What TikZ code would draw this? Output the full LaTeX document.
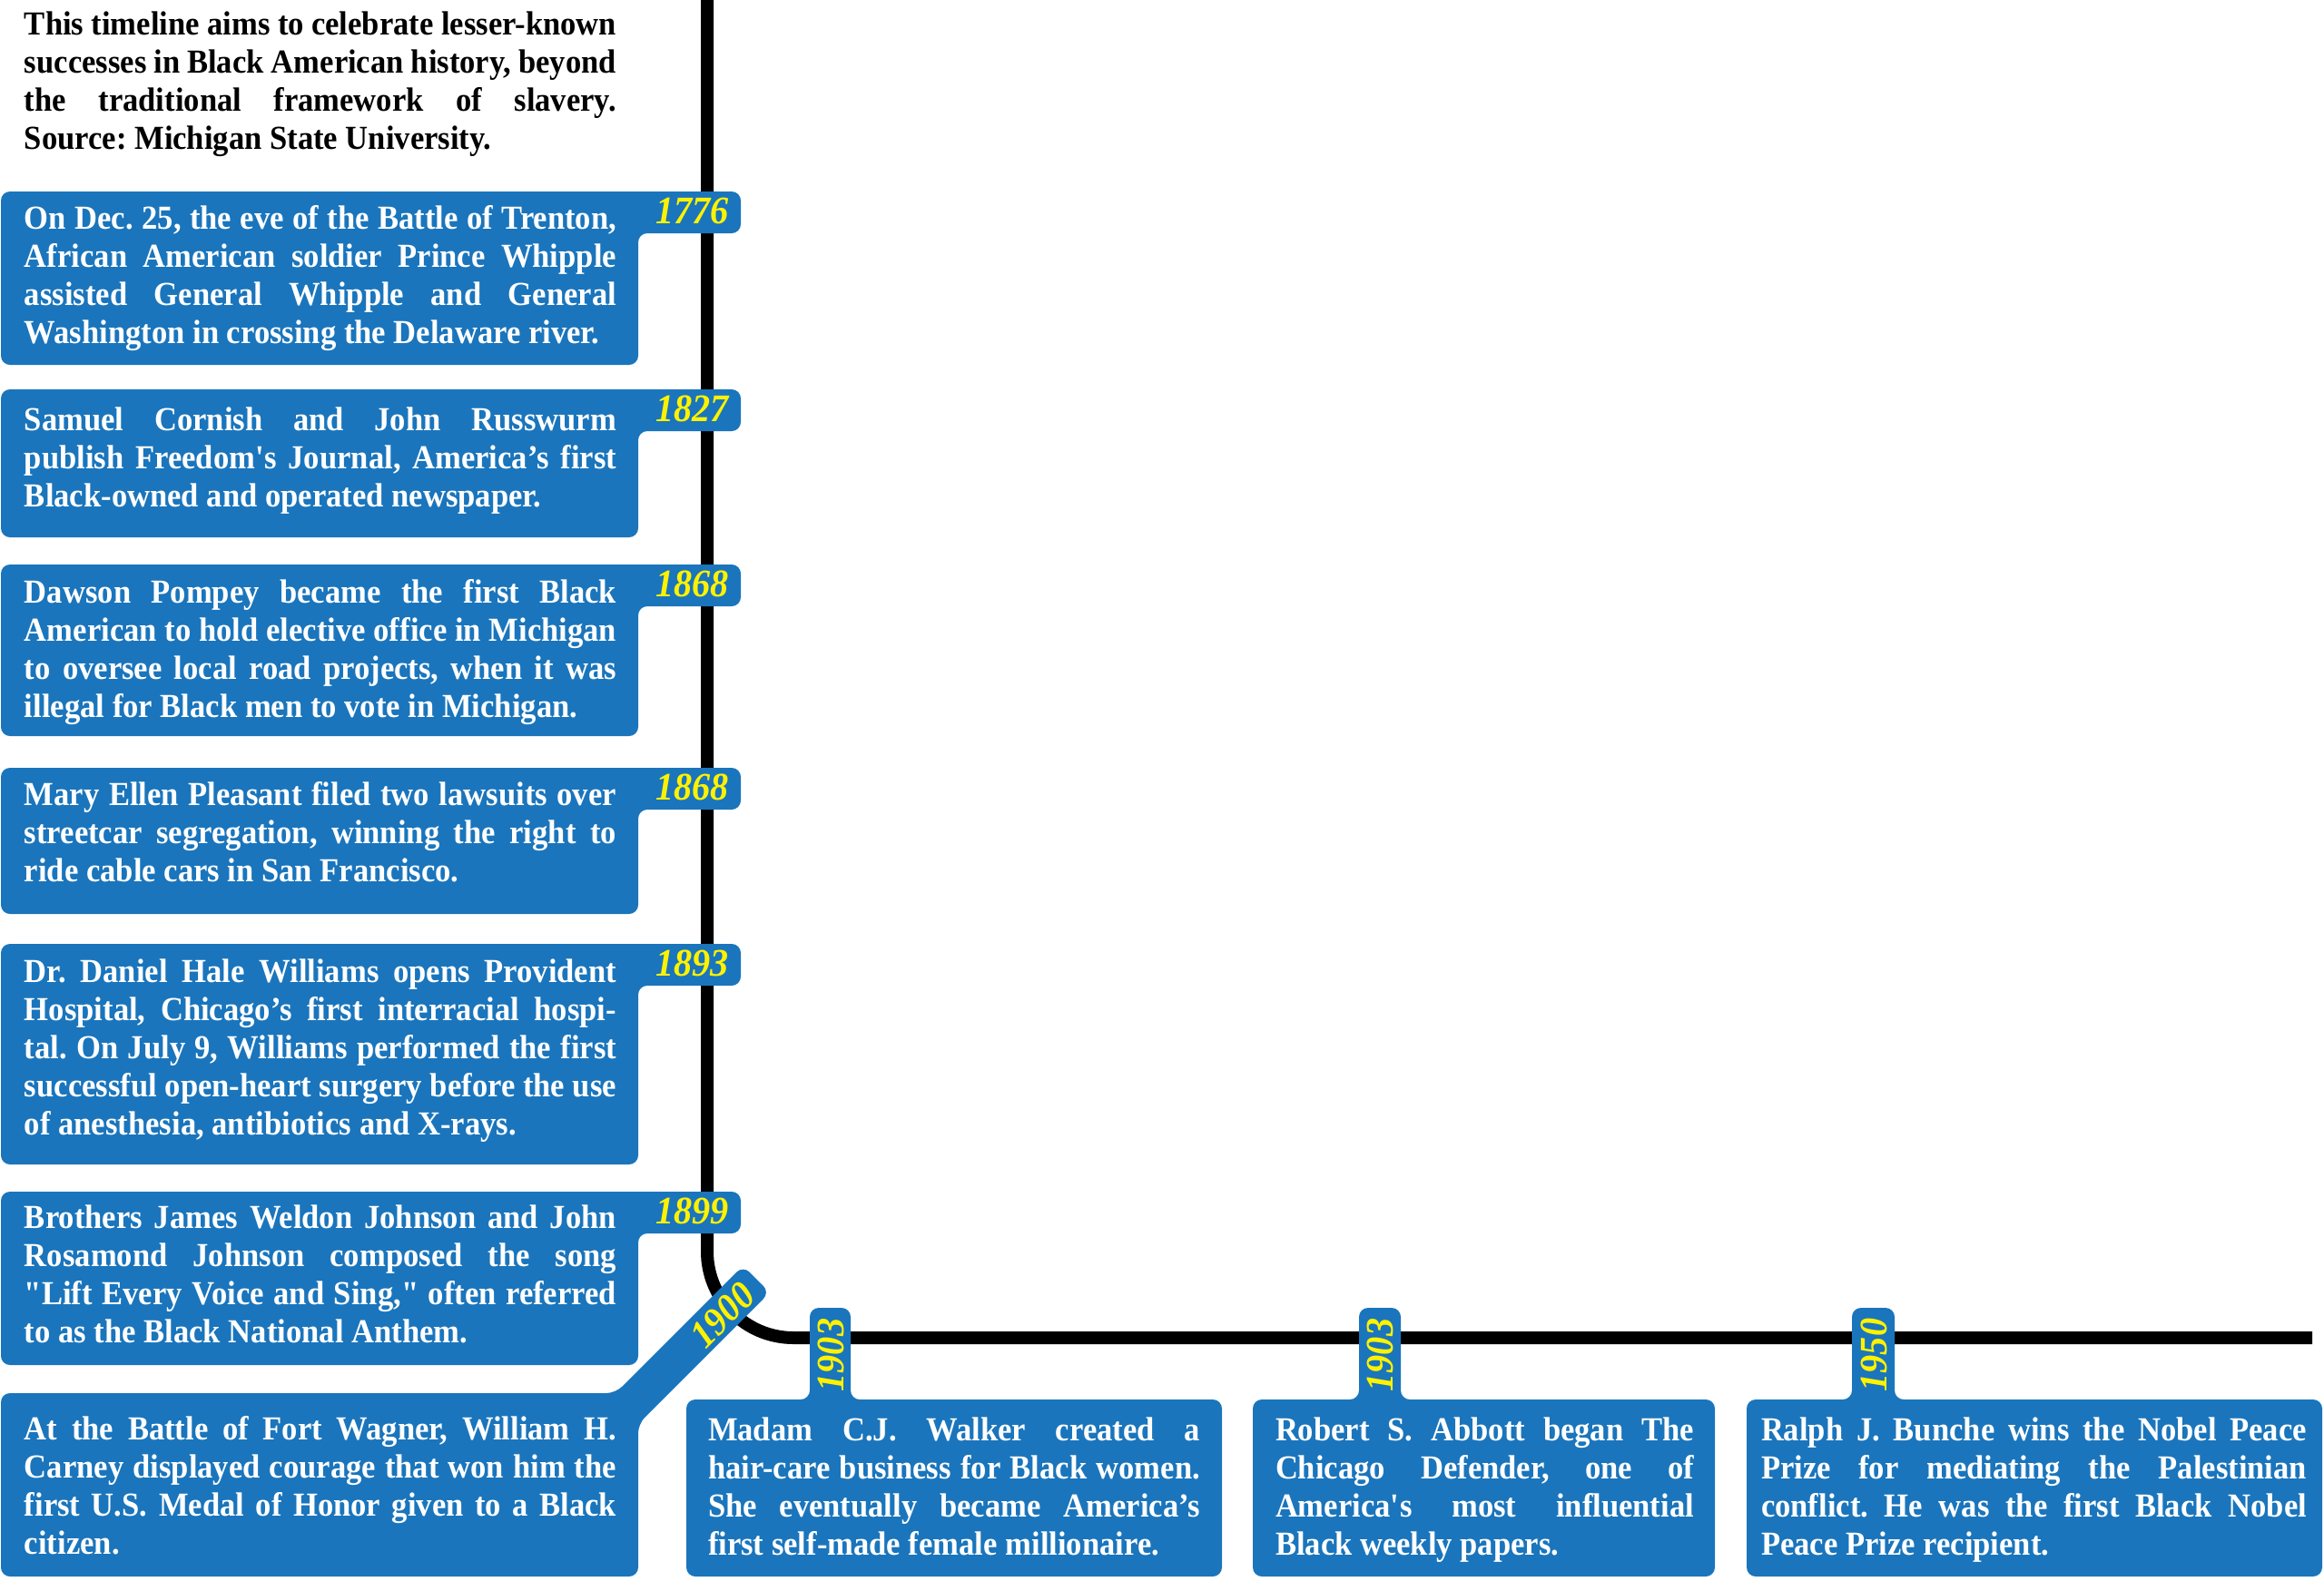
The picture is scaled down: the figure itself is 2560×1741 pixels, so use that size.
\documentclass[tikz,border=0pt]{standalone}
\usepackage{fontspec}
\newfontfamily\tlfont{Liberation Serif}[FakeStretch=0.935]
\definecolor{tlblue}{RGB}{26,117,188}
\definecolor{tlyellow}{RGB}{255,242,0}
\newdimen\tlw
\newcommand{\tljust}[1]{\hbox to \tlw{#1}}
\newcommand{\tllast}[1]{\hbox{#1}}
\newcommand{\tlsetw}[1]{\tlw=#1\spaceskip=0pt\xspaceskip=0pt\relax\ignorespaces}
\begin{document}
\frenchspacing
\begin{tikzpicture}[x=1pt,y=-1pt,
  body/.style={inner sep=0pt, outer sep=0pt, anchor=base west, text=white, align=justify,
    font=\tlfont\bfseries\fontsize{37}{42}\selectfont\frenchspacing},
  yr/.style={inner sep=0pt, outer sep=0pt, text=tlyellow,
    font=\tlfont\bfseries\itshape\fontsize{43}{43}\selectfont},
  boxfill/.style={fill=tlblue, rounded corners=10pt},
  tline/.style={draw=black, line width=14pt, rounded corners=95pt}]
\useasboundingbox (0,0) rectangle (2560,1741);

% timeline
\coordinate (ttop) at (779,0);
\coordinate (tcorner) at (779,1474);
\coordinate (tend) at (2547,1474);
\draw[tline] (ttop) -- (tcorner) -- (tend);

% left boxes with year tabs
\fill[boxfill] (1,211) -- (816,211) -- (816,257) -- (703,257) -- (703,402) -- (1,402) -- cycle;
\fill[boxfill] (1,429) -- (816,429) -- (816,475) -- (703,475) -- (703,592) -- (1,592) -- cycle;
\fill[boxfill] (1,622) -- (816,622) -- (816,668) -- (703,668) -- (703,811) -- (1,811) -- cycle;
\fill[boxfill] (1,846) -- (816,846) -- (816,892) -- (703,892) -- (703,1007) -- (1,1007) -- cycle;
\fill[boxfill] (1,1040) -- (816,1040) -- (816,1086) -- (703,1086) -- (703,1283) -- (1,1283) -- cycle;
\fill[boxfill] (1,1313) -- (816,1313) -- (816,1359) -- (703,1359) -- (703,1504) -- (1,1504) -- cycle;
% 1900 box with diagonal tab
\fill[boxfill] (1,1535) -- (678,1535) -- (818.5,1394.5) -- (848,1424) -- (703,1569) -- (703,1737) -- (1,1737) -- cycle;
% bottom boxes with vertical tabs
\fill[boxfill] (756,1542) -- (892,1542) -- (892,1441) -- (937,1441) -- (937,1542) -- (1346,1542) -- (1346,1737) -- (756,1737) -- cycle;
\fill[boxfill] (1380,1542) -- (1497,1542) -- (1497,1441) -- (1543,1441) -- (1543,1542) -- (1889,1542) -- (1889,1737) -- (1380,1737) -- cycle;
\fill[boxfill] (1924,1542) -- (2040,1542) -- (2040,1441) -- (2087,1441) -- (2087,1542) -- (2558,1542) -- (2558,1737) -- (1924,1737) -- cycle;

% years
\node[yr, anchor=base east] (y1776) at (803,246) {1776};
\node[yr, anchor=base east] (y1827) at (803,464) {1827};
\node[yr, anchor=base east] (y1868a) at (803,657) {1868};
\node[yr, anchor=base east] (y1868b) at (803,881) {1868};
\node[yr, anchor=base east] (y1893) at (803,1075) {1893};
\node[yr, anchor=base east] (y1899) at (803,1348) {1899};
\node[yr, rotate=45] (y1900) at (796,1449) {1900};
\node[yr, rotate=90] (y1903a) at (915,1493) {1903};
\node[yr, rotate=90] (y1903b) at (1520,1493) {1903};
\node[yr, rotate=90] (y1950) at (2064,1493) {1950};

% texts
\node[body, text=black, text width=652pt] (intro) at (27,38) {\tlsetw{652pt}
\tljust{This timeline aims to celebrate lesser-known}
\tljust{successes in Black American history, beyond}
\tljust{the traditional framework of slavery.}
\tllast{Source: Michigan State University.}};

\node[body, text width=652pt] (t1776) at (27,252) {\tlsetw{652pt}
\tljust{On Dec. 25, the eve of the Battle of Trenton,}
\tljust{African American soldier Prince Whipple}
\tljust{assisted General Whipple and General}
\tllast{Washington in crossing the Delaware river.}};

\node[body, text width=652pt] (t1827) at (27,474) {\tlsetw{652pt}
\tljust{Samuel Cornish and John Russwurm}
\tljust{publish Freedom\textquotesingle s Journal, America’s first}
\tllast{Black-owned and operated newspaper.}};

\node[body, text width=652pt] (t1868a) at (27,664) {\tlsetw{652pt}
\tljust{Dawson Pompey became the first Black}
\tljust{American to hold elective office in Michigan}
\tljust{to oversee local road projects, when it was}
\tllast{illegal for Black men to vote in Michigan.}};

\node[body, text width=652pt] (t1868b) at (27,887) {\tlsetw{652pt}
\tljust{Mary Ellen Pleasant filed two lawsuits over}
\tljust{streetcar segregation, winning the right to}
\tllast{ride cable cars in San Francisco.}};

\node[body, text width=652pt] (t1893) at (27,1082) {\tlsetw{652pt}
\tljust{Dr. Daniel Hale Williams opens Provident}
\tljust{Hospital, Chicago’s first interracial hospi-}
\tljust{tal. On July 9, Williams performed the first}
\tljust{successful open-heart surgery before the use}
\tllast{of anesthesia, antibiotics and X-rays.}};

\node[body, text width=652pt] (t1899) at (27,1353) {\tlsetw{652pt}
\tljust{Brothers James Weldon Johnson and John}
\tljust{Rosamond Johnson composed the song}
\tljust{"Lift Every Voice and Sing," often referred}
\tllast{to as the Black National Anthem.}};

\node[body, text width=652pt] (t1900) at (27,1586) {\tlsetw{652pt}
\tljust{At the Battle of Fort Wagner, William H.}
\tljust{Carney displayed courage that won him the}
\tljust{first U.S. Medal of Honor given to a Black}
\tllast{citizen.}};

\node[body, text width=542pt] (t1903a) at (780,1587) {\tlsetw{542pt}
\tljust{Madam C.J. Walker created a}
\tljust{hair-care business for Black women.}
\tljust{She eventually became America’s}
\tllast{first self-made female millionaire.}};

\node[body, text width=461pt] (t1903b) at (1405,1587) {\tlsetw{461pt}
\tljust{Robert S. Abbott began The}
\tljust{Chicago Defender, one of}
\tljust{America\textquotesingle s most influential}
\tllast{Black weekly papers.}};

\node[body, text width=601pt] (t1950) at (1940,1587) {\tlsetw{601pt}
\tljust{Ralph J. Bunche wins the Nobel Peace}
\tljust{Prize for mediating the Palestinian}
\tljust{conflict. He was the first Black Nobel}
\tllast{Peace Prize recipient.}};
\end{tikzpicture}
\end{document}
